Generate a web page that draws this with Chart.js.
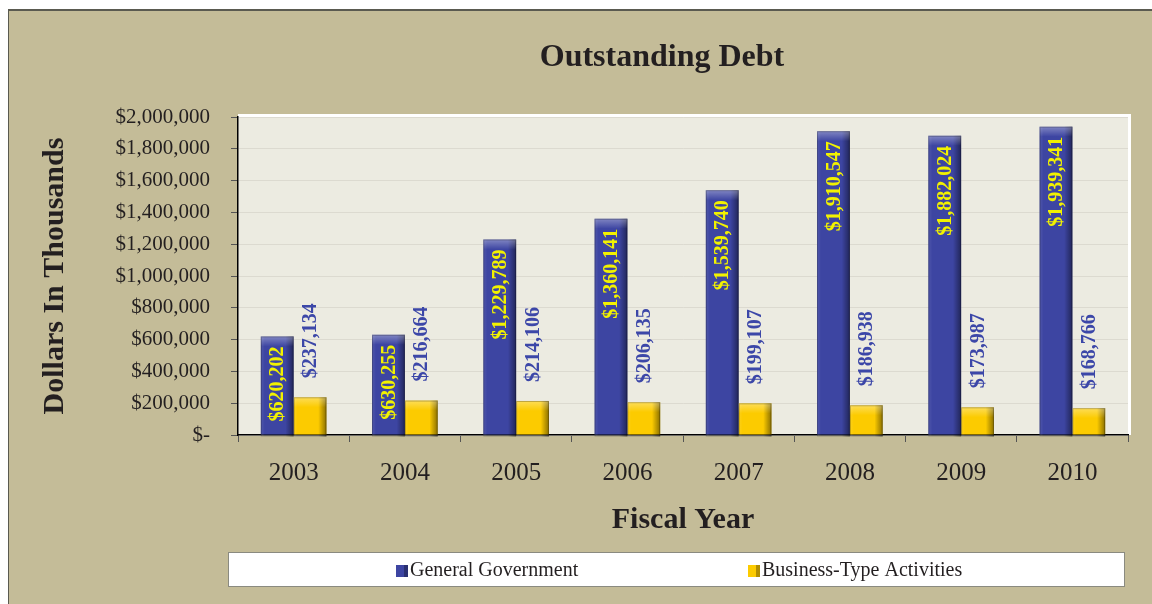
<!DOCTYPE html>
<html>
<head>
<meta charset="utf-8">
<script src="https://cdn.jsdelivr.net/npm/chart.js@4.4.0/dist/chart.umd.min.js"></script>
<style>
    html, body { margin: 0; padding: 0; background: #fff; }
    #wrap { width: 1152px; height: 604px; }
</style>
</head>
<body>
<div id="wrap"><canvas id="debtChart" width="1152" height="604"></canvas></div>
<script>
// Data (dollars in thousands)
const years = ["2003", "2004", "2005", "2006", "2007", "2008", "2009", "2010"];
const generalGov = [620202, 630255, 1229789, 1360141, 1539740, 1910547, 1882024, 1939341];
const businessType = [237134, 216664, 214106, 206135, 199107, 186938, 173987, 168766];

const SERIF = "'Liberation Serif', 'Times New Roman', serif";

function money(v) {
    if (v === 0) return "$-";
    return "$" + v.toLocaleString("en-US");
}

// background, plot area, title
const framePlugin = {
    id: "frame",
    beforeDraw(chart) {
        const { ctx, chartArea: a } = chart;
        ctx.save();
        ctx.fillStyle = "#ffffff";
        ctx.fillRect(0, 0, chart.width, chart.height);
        ctx.fillStyle = "#c4bc98";
        ctx.fillRect(8, 10, chart.width - 8, chart.height - 10);
        ctx.fillStyle = "#5a5a50";
        ctx.fillRect(8, 9, chart.width - 8, 2);
        ctx.fillRect(8, 9, 1, chart.height - 9);
        // plot area
        ctx.fillStyle = "#ffffff";
        ctx.fillRect(a.left, a.top - 3, a.right - a.left + 3, a.bottom - a.top + 3);
        ctx.fillStyle = "#ecebe1";
        ctx.fillRect(a.left, a.top, a.right - a.left, a.bottom - a.top);
        // title
        ctx.fillStyle = "#231f20";
        ctx.font = "bold 32px " + SERIF;
        ctx.textAlign = "center";
        ctx.textBaseline = "middle";
        ctx.fillText("Outstanding Debt", 662, 58);
        ctx.restore();
    }
};

// bevel shading on the bars + rotated value labels
const barDecor = {
    id: "barDecor",
    afterDatasetsDraw(chart) {
        const ctx = chart.ctx;
        chart.data.datasets.forEach((ds, di) => {
            const meta = chart.getDatasetMeta(di);
            meta.data.forEach((bar, i) => {
                const { x, y, base, width } = bar.getProps(["x", "y", "base", "width"], true);
                const l = x - width / 2;
                ctx.save();
                const g = ctx.createLinearGradient(l, 0, l + width, 0);
                g.addColorStop(0, "rgba(255,255,255,0.10)");
                g.addColorStop(0.12, "rgba(255,255,255,0.0)");
                g.addColorStop(0.75, "rgba(0,0,0,0.0)");
                g.addColorStop(1, "rgba(0,0,0,0.45)");
                ctx.fillStyle = g;
                ctx.fillRect(l, y, width, base - y + 2);
                const t = ctx.createLinearGradient(0, y, 0, y + 10);
                t.addColorStop(0, "rgba(255,255,255,0.35)");
                t.addColorStop(1, "rgba(255,255,255,0)");
                ctx.fillStyle = t;
                ctx.fillRect(l, y, width, Math.min(10, base - y));
                ctx.strokeStyle = "rgba(0,0,0,0.25)";
                ctx.lineWidth = 1;
                ctx.strokeRect(l + 0.5, y + 0.5, width - 1, base - y + 1);
                ctx.restore();

                // labels
                const v = ds.data[i];
                ctx.save();
                ctx.font = "bold 20px " + SERIF;
                ctx.textBaseline = "middle";
                if (di === 0) {
                    ctx.translate(x, y + 10);
                    ctx.rotate(-Math.PI / 2);
                    ctx.textAlign = "right";
                    ctx.fillStyle = "#f2f200";
                } else {
                    ctx.translate(x, y - 19);
                    ctx.rotate(-Math.PI / 2);
                    ctx.textAlign = "left";
                    ctx.fillStyle = "#3c47a8";
                }
                ctx.fillText(money(v), 0, 1);
                ctx.restore();
            });
        });
    }
};

// legend box at the bottom
const legendBox = {
    id: "legendBox",
    afterDraw(chart) {
        const ctx = chart.ctx;
        ctx.save();
        ctx.fillStyle = "#ffffff";
        ctx.fillRect(228, 552, 897, 35);
        ctx.strokeStyle = "#8a8a80";
        ctx.lineWidth = 1;
        ctx.strokeRect(228.5, 552.5, 896, 34);
        const xs = [396, 748];
        chart.data.datasets.forEach((ds, i) => {
            ctx.fillStyle = ds.backgroundColor;
            ctx.fillRect(xs[i], 565, 12, 12);
            ctx.fillStyle = "rgba(0,0,0,0.3)";
            ctx.fillRect(xs[i] + 8, 565, 4, 12);
            ctx.fillStyle = "#231f20";
            ctx.font = "20px " + SERIF;
            ctx.textAlign = "left";
            ctx.textBaseline = "middle";
            ctx.fillText(ds.label, xs[i] + 14, 571);
        });
        ctx.restore();
    }
};

const ctx = document.getElementById("debtChart").getContext("2d");
new Chart(ctx, {
    type: "bar",
    data: {
        labels: years,
        datasets: [
            { label: "General Government", data: generalGov, backgroundColor: "#3d45a2" },
            { label: "Business-Type Activities", data: businessType, backgroundColor: "#fccb00" }
        ]
    },
    options: {
        responsive: false,
        animation: false,
        layout: { padding: { left: 0, top: 117, right: 24, bottom: 0 } },
        categoryPercentage: 0.59,
        barPercentage: 1,
        plugins: {
            legend: { display: false },
            tooltip: { enabled: false }
        },
        scales: {
            x: {
                afterFit: s => { s.height = 169; },
                grid: { drawOnChartArea: false, drawTicks: true, tickLength: 7, tickColor: "#555", offset: true },
                border: { color: "#000", width: 1.5 },
                ticks: { color: "#231f20", font: { family: SERIF, size: 25 }, padding: 16 },
                title: {
                    display: true, text: "Fiscal Year", color: "#231f20",
                    font: { family: SERIF, size: 30, weight: "bold" },
                    padding: { top: 0, bottom: 66 }
                }
            },
            y: {
                min: 0, max: 2000000,
                afterFit: s => { s.width = 238; },
                grid: { color: "#dcdad0", tickColor: "#555", tickLength: 7 },
                border: { color: "#000", width: 1.5 },
                ticks: {
                    stepSize: 200000, color: "#231f20", padding: 21,
                    font: { family: SERIF, size: 21 },
                    callback: v => money(v)
                },
                title: {
                    display: true, text: "Dollars In Thousands", color: "#231f20",
                    font: { family: SERIF, size: 30, weight: "bold" },
                    padding: { top: 37, bottom: 0 }
                }
            }
        }
    },
    plugins: [framePlugin, barDecor, legendBox]
});
</script>
</body>
</html>
